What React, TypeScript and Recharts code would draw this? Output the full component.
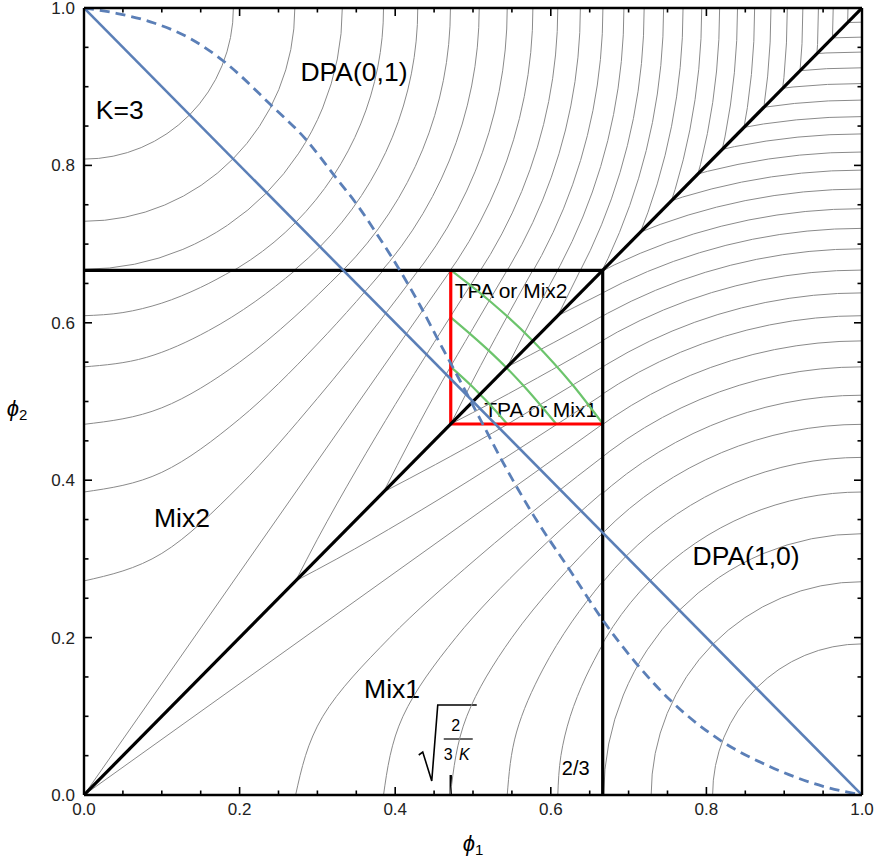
import React from "react";
import { ComposedChart, Line, XAxis, YAxis, ReferenceArea } from "recharts";

const FONT = "'Liberation Sans', Arial, sans-serif";
const GRAY = "#8a8a8a";
const BLUE = "#5b7fb7";

const TICKS = [0, 0.05, 0.1, 0.15, 0.2, 0.25, 0.3, 0.35, 0.4, 0.45, 0.5, 0.55, 0.6, 0.65, 0.7, 0.75, 0.8, 0.85, 0.9, 0.95, 1];
const MAJOR_TICKS = [0, 0.2, 0.4, 0.6, 0.8, 1];
const MAJOR_LABELS = ["0.0", "0.2", "0.4", "0.6", "0.8", "1.0"];

const TWO_THIRDS = 0.6667;
const ROOT = 0.4714; // sqrt(2/(3K)) for K = 3

const DPA_RADII = [
  0.192, 0.271, 0.332, 0.385, 0.429, 0.471, 0.508, 0.544, 0.577, 0.609, 0.638, 0.667, 0.694,
  0.72, 0.745, 0.77, 0.794, 0.817, 0.84, 0.862, 0.883, 0.904, 0.924, 0.944, 0.963, 0.982,
];

// contour lines in the Mix2 part (phi1, phi2); Mix1 is the same picture reflected on the diagonal
const MIX_C4 = [[0, 0.609], [0.05, 0.613], [0.1, 0.625], [0.15, 0.645], [0.192, 0.667]];
const MIX_C5 = [[0, 0.544], [0.08, 0.556], [0.16, 0.59], [0.22, 0.627], [0.272, 0.667]];
const MIX_C6 = [[0, 0.471], [0.1, 0.492], [0.2, 0.55], [0.27, 0.607], [0.333, 0.667]];
const MIX_C7 = [[0, 0.385], [0.1, 0.41], [0.2, 0.478], [0.3, 0.573], [0.35, 0.627], [0.385, 0.667]];
const MIX_C8 = [[0, 0.272], [0.1, 0.307], [0.2, 0.393], [0.3, 0.504], [0.38, 0.602], [0.43, 0.667]];
const MIX_C9 = [[0, 0], [0.4714, 0.6667]];
const MIX_C10 = [[0.272, 0.272], [0.3, 0.325], [0.35, 0.413], [0.4, 0.496], [0.45, 0.575], [0.509, 0.667]];
const MIX_C11 = [[0.385, 0.385], [0.42, 0.452], [0.46, 0.525], [0.5, 0.593], [0.544, 0.667]];
const MIX_C12 = [[0.4714, 0.4714], [0.5, 0.527], [0.54, 0.601], [0.577, 0.667]];
const MIX_C13 = [[0.544, 0.544], [0.575, 0.604], [0.609, 0.667]];
const MIX_C14 = [[0.609, 0.609], [0.62, 0.631], [0.638, 0.667]];
const MIX_CURVES = [MIX_C4, MIX_C5, MIX_C6, MIX_C7, MIX_C8, MIX_C9, MIX_C10, MIX_C11, MIX_C12, MIX_C13, MIX_C14];

// green TPA contours inside the box
const TPA_OUTER = [[0.4714, 0.667], [0.52, 0.629], [0.577, 0.577], [0.629, 0.52], [0.667, 0.4714]];
const TPA_MID = [[0.4714, 0.607], [0.52, 0.565], [0.543, 0.543], [0.565, 0.52], [0.607, 0.4714]];
const TPA_INNER = [[0.4714, 0.544], [0.5, 0.518], [0.509, 0.509], [0.518, 0.5], [0.544, 0.4714]];

const DASHED = [
  [0, 1], [0.043, 0.993], [0.09, 0.981], [0.137, 0.961], [0.18, 0.932], [0.24, 0.877], [0.287, 0.831],
  [0.321, 0.788], [0.351, 0.75], [0.377, 0.712], [0.407, 0.665], [0.432, 0.622], [0.458, 0.573],
  [0.483, 0.527], [0.509, 0.478], [0.54, 0.42], [0.578, 0.355], [0.625, 0.285], [0.667, 0.222],
  [0.71, 0.167], [0.753, 0.121], [0.817, 0.07], [0.882, 0.036], [0.95, 0.011], [1, 0],
];
const SOLID = [[0, 1], [1, 0]];
const DIAGONAL = [[0, 0], [1, 1]];
const HORIZONTAL = [[0, TWO_THIRDS], [TWO_THIRDS, TWO_THIRDS]];
const VERTICAL = [[TWO_THIRDS, 0], [TWO_THIRDS, TWO_THIRDS]];
const RED_V = [[ROOT, ROOT], [ROOT, TWO_THIRDS]];
const RED_H = [[ROOT, ROOT], [TWO_THIRDS, ROOT]];

const REGION_DPA01 = [[0, 1], [0, TWO_THIRDS], [TWO_THIRDS, TWO_THIRDS], [1, 1]];
const REGION_DPA10 = [[1, 0], [TWO_THIRDS, 0], [TWO_THIRDS, TWO_THIRDS], [1, 1]];

const LABELS = [
  { text: "DPA(0,1)", at: [0.347, 0.907], size: 26.5 },
  { text: "K=3", at: [0.046, 0.859], size: 26.5 },
  { text: "Mix2", at: [0.126, 0.341], size: 26.5 },
  { text: "Mix1", at: [0.396, 0.123], size: 26.5 },
  { text: "DPA(1,0)", at: [0.851, 0.292], size: 26.5 },
  { text: "TPA or Mix2", at: [0.549, 0.6315], size: 21 },
  { text: "TPA or Mix1", at: [0.587, 0.48], size: 21 },
  { text: "2/3", at: [0.632, 0.0254], size: 20 },
];

const pts = (a: number[][]) => a.map(([x, y]) => ({ x, y }));
const swapped = (a: number[][]) => a.map(([x, y]) => ({ x: y, y: x }));

function BottomTick({ x, y, payload }: any) {
  const i = MAJOR_TICKS.indexOf(payload.value);
  return (
    <g>
      <line x1={x} y1={y} x2={x} y2={y - (i >= 0 ? 8 : 4.5)} stroke="#000" strokeWidth={1.6} />
      {i >= 0 && (
        <text x={x} y={y + 20} textAnchor="middle" fontSize={17} fill="#222" fontFamily={FONT}>
          {MAJOR_LABELS[i]}
        </text>
      )}
    </g>
  );
}

function LeftTick({ x, y, payload }: any) {
  const i = MAJOR_TICKS.indexOf(payload.value);
  return (
    <g>
      <line x1={x} y1={y} x2={x + (i >= 0 ? 8 : 4.5)} y2={y} stroke="#000" strokeWidth={1.6} />
      {i >= 0 && (
        <text x={x - 9} y={y + 6} textAnchor="end" fontSize={17} fill="#222" fontFamily={FONT}>
          {MAJOR_LABELS[i]}
        </text>
      )}
    </g>
  );
}

function TopTick({ x, y, payload }: any) {
  const major = MAJOR_TICKS.includes(payload.value);
  return <line x1={x} y1={y} x2={x} y2={y + (major ? 8 : 4.5)} stroke="#000" strokeWidth={1.6} />;
}

function RightTick({ x, y, payload }: any) {
  const major = MAJOR_TICKS.includes(payload.value);
  return <line x1={x} y1={y} x2={x - (major ? 8 : 4.5)} y2={y} stroke="#000" strokeWidth={1.6} />;
}

// bounding box of the quarter circle is the reference area itself
const arcAround01 = (p: any) => (
  <path
    d={`M${p.x},${p.y + p.height}A${p.width},${p.height} 0 0 0 ${p.x + p.width},${p.y}`}
    fill="none"
    stroke={GRAY}
    strokeWidth={1}
    clipPath="url(#clip-dpa01)"
  />
);

const arcAround10 = (p: any) => (
  <path
    d={`M${p.x},${p.y + p.height}A${p.width},${p.height} 0 0 1 ${p.x + p.width},${p.y}`}
    fill="none"
    stroke={GRAY}
    strokeWidth={1}
    clipPath="url(#clip-dpa10)"
  />
);

const RegionClips = (p: any) => {
  const at = ([a, b]: number[]) => `${p.x + a * p.width},${p.y + (1 - b) * p.height}`;
  return (
    <defs>
      <clipPath id="clip-dpa01">
        <polygon points={REGION_DPA01.map(at).join(" ")} />
      </clipPath>
      <clipPath id="clip-dpa10">
        <polygon points={REGION_DPA10.map(at).join(" ")} />
      </clipPath>
    </defs>
  );
};

const Annotations = (p: any) => {
  const X = (a: number) => p.x + a * p.width;
  const Y = (b: number) => p.y + (1 - b) * p.height;
  const rx = X(ROOT);
  const ry = Y(0);
  return (
    <g fontFamily={FONT} fill="#000">
      {LABELS.map((l) => (
        <text key={l.text} x={X(l.at[0])} y={Y(l.at[1])} fontSize={l.size} textAnchor="middle">
          {l.text}
        </text>
      ))}
      <g transform={`translate(${rx},${ry})`}>
        <line x1={0} y1={0} x2={0} y2={-20} stroke="#000" strokeWidth={2.4} />
        <path d="M-32,-40 L-28,-43 L-19,-14 L-13,-90 L26,-90" fill="none" stroke="#000" strokeWidth={1.6} />
        <text x={5} y={-64} fontSize={16} textAnchor="middle">2</text>
        <line x1={-7} y1={-56} x2={22} y2={-56} stroke="#000" strokeWidth={1.2} />
        <text x={-2.5} y={-35} fontSize={16} textAnchor="middle">3</text>
        <text x={13.5} y={-35} fontSize={16} textAnchor="middle" fontStyle="italic">K</text>
      </g>
      <text x={X(0.5)} y={Y(0) + 56} fontSize={22} textAnchor="middle" fontFamily={FONT}>
        <tspan fontStyle="italic">ϕ</tspan>
        <tspan fontSize={15} dy={4}>1</tspan>
      </text>
      <text x={X(0) - 67} y={Y(0.5) + 14} fontSize={22} textAnchor="middle" fontFamily={FONT}>
        <tspan fontStyle="italic">ϕ</tspan>
        <tspan fontSize={15} dy={4}>2</tspan>
      </text>
    </g>
  );
};

const lineProps = { dataKey: "y", dot: false, activeDot: false, isAnimationActive: false, legendType: "none" as const };
const frameLine = { stroke: "#000", strokeWidth: 2.4 };

export default function App() {
  return (
    <div style={{ position: "absolute", left: 0, top: 0, width: 883, height: 863, background: "#fff" }}>
      <ComposedChart width={883} height={863} margin={{ top: 7, right: 20, bottom: 0, left: 8 }}>
        <XAxis
          dataKey="x"
          type="number"
          domain={[0, 1]}
          ticks={TICKS}
          interval={0}
          allowDataOverflow
          height={68}
          tickSize={0}
          tickMargin={0}
          tickLine={false}
          axisLine={frameLine}
          tick={<BottomTick />}
        />
        <XAxis
          xAxisId="top"
          orientation="top"
          dataKey="x"
          type="number"
          domain={[0, 1]}
          ticks={TICKS}
          interval={0}
          allowDataOverflow
          height={1}
          tickSize={0}
          tickMargin={0}
          tickLine={false}
          axisLine={frameLine}
          tick={<TopTick />}
        />
        <YAxis
          type="number"
          domain={[0, 1]}
          ticks={TICKS}
          interval={0}
          allowDataOverflow
          width={76}
          tickSize={0}
          tickMargin={0}
          tickLine={false}
          axisLine={frameLine}
          tick={<LeftTick />}
        />
        <YAxis
          yAxisId="right"
          orientation="right"
          type="number"
          domain={[0, 1]}
          ticks={TICKS}
          interval={0}
          allowDataOverflow
          width={1}
          tickSize={0}
          tickMargin={0}
          tickLine={false}
          axisLine={frameLine}
          tick={<RightTick />}
        />

        <ReferenceArea x1={0} x2={1} y1={0} y2={1} ifOverflow="visible" shape={RegionClips} />
        {DPA_RADII.map((r) => (
          <ReferenceArea key={`a01-${r}`} x1={0} x2={r} y1={1 - r} y2={1} ifOverflow="visible" shape={arcAround01} />
        ))}
        {DPA_RADII.map((r) => (
          <ReferenceArea key={`a10-${r}`} x1={1 - r} x2={1} y1={0} y2={r} ifOverflow="visible" shape={arcAround10} />
        ))}

        {MIX_CURVES.map((c, i) => (
          <Line key={`m2-${i}`} {...lineProps} data={pts(c)} type="monotoneX" stroke={GRAY} strokeWidth={1} />
        ))}
        {MIX_CURVES.map((c, i) => (
          <Line key={`m1-${i}`} {...lineProps} data={swapped(c)} type="monotoneY" stroke={GRAY} strokeWidth={1} />
        ))}

        {[TPA_OUTER, TPA_MID, TPA_INNER].map((c, i) => (
          <Line key={`tpa-${i}`} {...lineProps} data={pts(c)} type="monotone" stroke="#6cc46c" strokeWidth={2.2} />
        ))}

        <Line {...lineProps} data={pts(RED_V)} type="linear" stroke="#ff0000" strokeWidth={3.2} />
        <Line {...lineProps} data={pts(RED_H)} type="linear" stroke="#ff0000" strokeWidth={3.2} />

        <Line {...lineProps} data={pts(DIAGONAL)} type="linear" stroke="#000" strokeWidth={3.2} />
        <Line {...lineProps} data={pts(HORIZONTAL)} type="linear" stroke="#000" strokeWidth={3.2} />
        <Line {...lineProps} data={pts(VERTICAL)} type="linear" stroke="#000" strokeWidth={3.2} />

        <Line {...lineProps} data={pts(SOLID)} type="linear" stroke={BLUE} strokeWidth={2.6} />
        <Line {...lineProps} data={pts(DASHED)} type="monotone" stroke={BLUE} strokeWidth={2.8} strokeDasharray="10 6" />

        <ReferenceArea x1={0} x2={1} y1={0} y2={1} ifOverflow="visible" shape={Annotations} />
      </ComposedChart>
    </div>
  );
}
